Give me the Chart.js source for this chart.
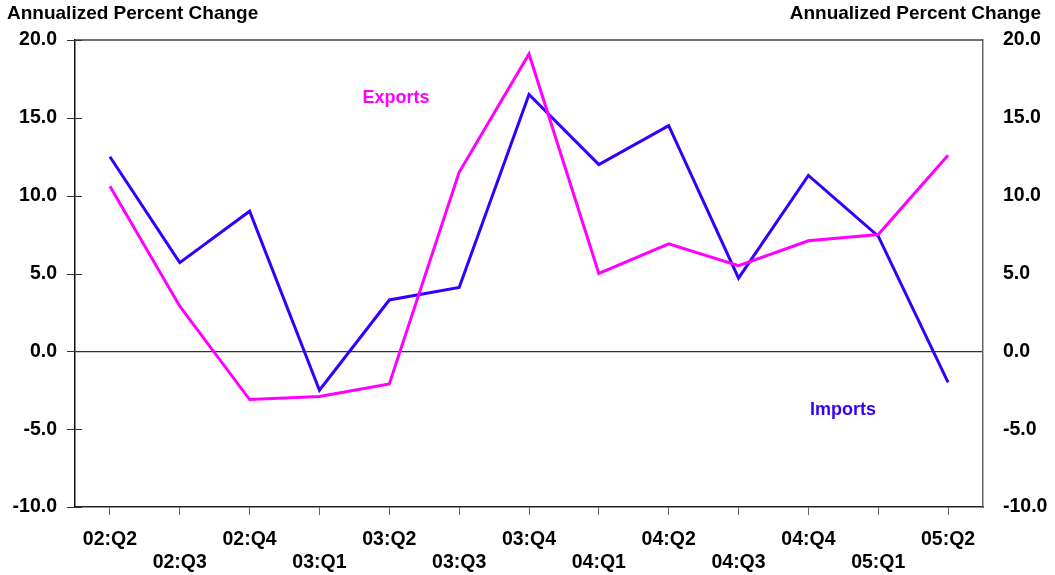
<!DOCTYPE html>
<html>
<head>
<meta charset="utf-8">
<script src="https://cdn.jsdelivr.net/npm/chart.js@4.4.1/dist/chart.umd.min.js"></script>
<style>
  html, body { margin:0; padding:0; background:#fff; }
  #wrap { width:1055px; height:575px; position:relative; }
</style>
</head>
<body>
<div id="wrap"><canvas id="c"></canvas></div>
<script>
// quarters and series
const quarters = ['02:Q2','02:Q3','02:Q4','03:Q1','03:Q2','03:Q3','03:Q4','04:Q1','04:Q2','04:Q3','04:Q4','05:Q1','05:Q2'];
const exportsPct = [10.6, 2.9, -3.1, -2.9, -2.1, 11.5, 19.1, 5.0, 6.9, 5.5, 7.1, 7.5, 12.6];
const importsPct = [12.5, 5.7, 9.0, -2.5, 3.3, 4.1, 16.5, 12.0, 14.5, 4.7, 11.3, 7.4, -2.0];
const yTicks = [-10, -5, 0, 5, 10, 15, 20];
const axisTitle = 'Annualized Percent Change';

const FONT = '"Liberation Sans", Arial, sans-serif';
const MAGENTA = '#ff00ff';
const BLUE = '#3300ff';

// alternate labels on two rows
const xLabels = quarters.map((q,i)=> i % 2 === 0 ? [q, ''] : ['', q]);

const framePlugin = {
  id: 'frame',
  afterDraw(chart) {
    const {ctx, chartArea:a, scales} = chart;
    const y = scales.y;
    ctx.save();
    // top border
    ctx.strokeStyle = '#444';
    ctx.lineWidth = 1.5;
    ctx.beginPath();
    ctx.moveTo(a.left, a.top); ctx.lineTo(a.right, a.top);
    ctx.stroke();
    // left ticks crossing the axis
    ctx.strokeStyle = '#333';
    ctx.lineWidth = 1;
    yTicks.forEach(v=>{
      const py = Math.round(y.getPixelForValue(v)) + 0.5;
      ctx.beginPath();
      ctx.moveTo(a.left - 8, py); ctx.lineTo(a.left + 7, py);
      ctx.stroke();
    });
    // titles
    ctx.fillStyle = '#000';
    ctx.font = 'bold 19px ' + FONT;
    ctx.textBaseline = 'middle';
    ctx.textAlign = 'left';
    ctx.fillText(axisTitle, 7, 14);
    ctx.textAlign = 'right';
    ctx.fillText(axisTitle, 1041, 14);
    // series labels
    ctx.font = 'bold 18px ' + FONT;
    ctx.textAlign = 'center';
    ctx.fillStyle = MAGENTA;
    ctx.fillText('Exports', 396, 98);
    ctx.fillStyle = BLUE;
    ctx.fillText('Imports', 843, 410);
    ctx.restore();
  }
};

const tickFont = {family: FONT, size: 19.5, weight: 'bold'};

new Chart(document.getElementById('c'), {
  type: 'line',
  data: {
    labels: xLabels,
    datasets: [
      {label:'Exports', data: exportsPct, borderColor: MAGENTA, borderWidth: 3, pointRadius: 0, tension: 0, yAxisID:'y'},
      {label:'Imports', data: importsPct, borderColor: BLUE, borderWidth: 3, pointRadius: 0, tension: 0, yAxisID:'y'}
    ]
  },
  options: {
    responsive: true,
    maintainAspectRatio: false,
    animation: false,
    layout: {padding: {top: 40, left: 0, right: 0, bottom: 0}},
    plugins: {legend: {display:false}, tooltip: {enabled:false}},
    scales: {
      x: {
        offset: true,
        grid: {drawOnChartArea: false, drawTicks: true, tickLength: 8, tickColor: '#666', offset: false},
        border: {display: true, color: '#222', width: 1.5},
        ticks: {font: {family: FONT, size: 19.5, weight: 'bold', lineHeight: 1.18}, color: '#000', padding: 13, maxRotation: 0, autoSkip: false},
        afterFit(s) { s.height = 68; }
      },
      y: {
        position: 'left',
        min: -10, max: 20,
        grid: {
          drawTicks: false,
          color: ctx => ctx.tick && ctx.tick.value === 0 ? '#333' : 'rgba(0,0,0,0)',
          lineWidth: 1.2
        },
        border: {display: true, color: '#111', width: 1.5},
        ticks: {stepSize: 5, font: tickFont, color: '#000', padding: 18, callback: v => v.toFixed(1)},
        afterFit(s) { s.width = 75; }
      },
      y2: {
        position: 'right',
        min: -10, max: 20,
        grid: {display: false, drawTicks: false},
        border: {display: true, color: '#666', width: 1.5},
        ticks: {stepSize: 5, font: tickFont, color: '#000', padding: 20, callback: v => v.toFixed(1)},
        afterFit(s) { s.width = 72; }
      }
    }
  },
  plugins: [framePlugin]
});
</script>
</body>
</html>
